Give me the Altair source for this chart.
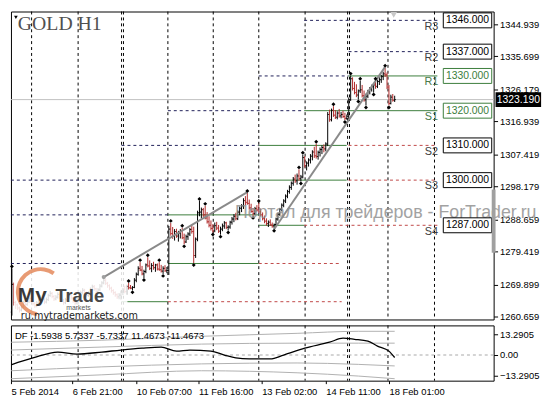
import altair as alt
import pandas as pd

# ---------------- data ----------------
first_open = 1262.0
bar_high = [
    1274.6, 1270.5, 1265.2, 1264.5, 1263.6, 1264.1, 1265.3, 1265.4, 1265.6, 1266.5,
    1266.3, 1265.5, 1264.9, 1265.2, 1265.9, 1266.8, 1266.7, 1266.0, 1266.2, 1267.3,
    1268.1, 1267.8, 1266.9, 1266.9, 1267.7, 1267.4, 1266.6, 1265.8, 1266.1, 1266.9,
    1267.6, 1267.3, 1266.4, 1265.6, 1266.3, 1267.5, 1268.2, 1268.9, 1268.7, 1267.9,
    1268.0, 1269.1, 1269.9, 1269.8, 1269.0, 1268.9, 1270.1, 1270.9, 1271.9, 1271.6,
    1270.7, 1270.0, 1269.3, 1268.6, 1268.0, 1267.4, 1267.5, 1268.2, 1269.0, 1269.6,
    1269.9, 1270.4, 1269.8, 1269.5, 1271.8, 1273.4, 1275.2, 1276.4, 1275.3, 1274.2,
    1276.0, 1277.8, 1276.9, 1276.1, 1276.5, 1275.9, 1276.0, 1276.4, 1275.6, 1275.2,
    1275.5, 1275.0, 1286.8, 1287.7, 1286.5, 1285.9, 1286.0, 1285.4, 1285.9, 1286.3,
    1284.6, 1284.3, 1285.0, 1286.2, 1287.0, 1286.6, 1283.5, 1291.2, 1294.0, 1292.1,
    1292.0, 1292.6, 1290.8, 1289.6, 1288.4, 1287.3, 1287.8, 1288.0, 1287.1, 1286.6,
    1287.5, 1288.2, 1288.0, 1287.0, 1288.3, 1289.4, 1290.2, 1290.6, 1291.3, 1292.4,
    1293.1, 1294.8, 1295.4, 1296.3, 1294.4, 1293.2, 1291.9, 1292.3, 1292.8, 1293.4,
    1291.8, 1290.7, 1289.8, 1289.0, 1288.4, 1288.7, 1287.8, 1287.5, 1289.2, 1290.6,
    1292.0, 1293.3, 1294.5, 1295.9, 1297.2, 1298.5, 1299.6, 1300.9, 1301.6, 1301.9,
    1303.1, 1301.5, 1307.3, 1306.9, 1305.4, 1306.3, 1307.5, 1308.6, 1309.6, 1310.5,
    1308.5, 1309.4, 1310.0, 1310.3, 1310.9, 1319.6, 1320.3, 1320.6, 1321.3, 1320.2,
    1319.8, 1320.5, 1319.6, 1320.0, 1319.4, 1318.9, 1323.8, 1330.1, 1329.6, 1328.3,
    1327.6, 1326.1, 1328.6, 1327.4, 1325.8, 1324.9, 1326.0, 1326.8, 1327.5, 1327.9,
    1328.6, 1328.9, 1329.6, 1330.3, 1331.2, 1332.4, 1331.0, 1327.4, 1324.6, 1324.8,
    1324.3,
]
bar_low = [
    1261.0, 1263.9, 1262.9, 1262.6, 1261.9, 1262.2, 1263.1, 1263.7, 1263.8, 1264.6,
    1264.7, 1263.9, 1263.2, 1263.4, 1264.1, 1264.9, 1265.1, 1264.3, 1264.5, 1265.2,
    1266.4, 1266.0, 1265.2, 1265.4, 1265.9, 1265.7, 1264.9, 1264.1, 1264.3, 1265.1,
    1265.9, 1265.6, 1264.7, 1264.0, 1264.2, 1265.4, 1266.5, 1267.1, 1267.0, 1266.2,
    1266.4, 1267.0, 1268.2, 1268.1, 1267.3, 1267.4, 1268.0, 1269.1, 1270.0, 1269.8,
    1269.0, 1268.3, 1267.6, 1267.0, 1266.4, 1265.8, 1265.7, 1265.6, 1266.9, 1267.4,
    1267.0, 1268.5, 1268.6, 1268.3, 1268.9, 1270.6, 1272.5, 1273.8, 1272.6, 1271.8,
    1273.2, 1274.9, 1274.1, 1273.5, 1274.2, 1273.6, 1274.0, 1273.9, 1273.4, 1273.0,
    1273.6, 1273.2, 1272.7, 1284.0, 1283.1, 1282.6, 1283.4, 1282.3, 1283.2, 1283.0,
    1281.5, 1281.9, 1282.8, 1283.9, 1284.6, 1276.1, 1277.6, 1282.4, 1289.6, 1289.0,
    1289.4, 1288.7, 1287.5, 1286.4, 1285.5, 1284.9, 1285.0, 1285.6, 1284.8, 1284.3,
    1285.3, 1286.0, 1285.9, 1285.5, 1286.0, 1287.2, 1287.9, 1288.4, 1288.5, 1289.9,
    1290.8, 1291.7, 1292.8, 1292.9, 1291.5, 1290.6, 1289.7, 1290.0, 1290.9, 1290.5,
    1289.6, 1288.4, 1287.6, 1286.9, 1286.5, 1286.8, 1286.3, 1286.0, 1286.9, 1288.3,
    1289.7, 1291.0, 1292.2, 1293.4, 1294.8, 1296.1, 1297.2, 1298.4, 1299.2, 1298.7,
    1299.8, 1299.6, 1300.5, 1303.6, 1302.8, 1303.9, 1304.8, 1305.7, 1306.4, 1306.2,
    1305.9, 1306.8, 1307.5, 1308.0, 1308.3, 1309.8, 1316.8, 1316.9, 1318.2, 1317.6,
    1317.5, 1318.0, 1317.8, 1317.9, 1317.3, 1317.4, 1317.6, 1322.8, 1325.8, 1324.7,
    1323.9, 1323.2, 1325.1, 1323.8, 1322.6, 1321.5, 1323.6, 1324.7, 1325.5, 1325.2,
    1326.3, 1326.5, 1327.4, 1328.0, 1328.8, 1329.7, 1326.2, 1321.5, 1321.8, 1322.6,
    1322.5,
]
bar_close = [
    1270.0, 1264.8, 1264.1, 1263.2, 1262.6, 1263.5, 1264.8, 1264.2, 1265.0, 1265.9,
    1265.1, 1264.4, 1263.8, 1264.6, 1265.3, 1266.2, 1265.7, 1264.9, 1265.6, 1266.8,
    1267.4, 1266.5, 1265.8, 1266.3, 1267.1, 1266.2, 1265.4, 1264.7, 1265.5, 1266.4,
    1267.0, 1266.1, 1265.2, 1264.6, 1265.8, 1266.9, 1267.6, 1268.3, 1267.5, 1266.8,
    1267.4, 1268.6, 1269.3, 1268.7, 1267.9, 1268.4, 1269.5, 1270.4, 1271.2, 1270.3,
    1269.6, 1268.9, 1268.2, 1267.6, 1267.0, 1266.4, 1266.9, 1267.8, 1268.6, 1267.9,
    1269.4, 1269.0, 1268.9, 1269.1, 1271.2, 1272.9, 1274.6, 1274.1, 1273.0, 1273.7,
    1275.6, 1275.3, 1274.6, 1275.4, 1274.8, 1275.6, 1274.4, 1274.2, 1273.8, 1274.6,
    1273.9, 1274.0, 1285.9, 1284.6, 1283.8, 1285.2, 1283.9, 1284.8, 1285.5, 1283.4,
    1282.2, 1283.7, 1284.5, 1285.8, 1285.2, 1278.3, 1283.0, 1290.6, 1290.8, 1291.5,
    1290.0, 1289.1, 1288.0, 1287.0, 1286.1, 1285.4, 1286.9, 1286.2, 1285.3, 1285.9,
    1286.8, 1287.7, 1286.4, 1286.5, 1287.9, 1288.8, 1289.6, 1288.9, 1290.8, 1291.9,
    1292.6, 1294.1, 1293.6, 1293.3, 1292.0, 1291.0, 1290.4, 1291.8, 1291.4, 1290.9,
    1290.0, 1288.9, 1288.2, 1287.5, 1287.9, 1287.1, 1286.8, 1287.2, 1288.8, 1290.2,
    1291.6, 1292.8, 1294.0, 1295.4, 1296.7, 1297.9, 1299.1, 1300.3, 1299.8, 1301.2,
    1300.4, 1300.9, 1306.5, 1304.2, 1304.9, 1305.8, 1306.9, 1308.1, 1307.0, 1306.8,
    1308.0, 1308.8, 1309.4, 1309.0, 1310.4, 1318.9, 1317.4, 1320.1, 1318.7, 1318.1,
    1319.3, 1318.5, 1318.9, 1318.3, 1317.8, 1318.4, 1323.2, 1329.2, 1326.4, 1325.2,
    1324.5, 1325.7, 1326.0, 1324.3, 1323.1, 1324.2, 1325.5, 1326.3, 1326.9, 1327.4,
    1327.0, 1328.4, 1328.9, 1329.8, 1330.6, 1330.3, 1326.8, 1322.1, 1323.9, 1323.0,
    1323.19,
]
up_fractals = [1, 62, 68, 72, 78, 84, 90, 99, 102, 124, 130, 151, 153, 160, 169, 178, 183, 191, 196]
down_fractals = [64, 70, 80, 91, 96, 106, 110, 114, 127, 138, 152, 175, 182, 186, 190, 198]

day_separators = [11.3, 35.6, 58.3, 59.3, 82.5, 106.2, 130.0, 154.2, 176.4, 177.4, 197.5, 221.8]

seg_price = [1346, 1337, 1330, 1320, 1310, 1300, 1290, 1276,
             1330, 1320, 1310, 1300, 1290, 1287, 1276, 1265,
             1310, 1300, 1287, 1276, 1265]
seg_start = [153.7, 176.9, 130.0, 82.5, 58.3, 0.5, 0.5, 0.5,
             176.9, 153.7, 130.0, 130.0, 82.5, 130.0, 82.5, 58.3,
             176.9, 176.9, 153.7, 130.0, 82.5]
seg_end = [223.3, 223.3, 176.9, 153.7, 130.0, 130.0, 82.5, 58.3,
           223.3, 223.3, 175.9, 175.9, 130.0, 153.7, 130.0, 82.5,
           223.3, 223.3, 223.3, 173.3, 173.3]
seg_style = ["R"] * 8 + ["P"] * 8 + ["S"] * 5

trend_id = ["t1", "t1", "t2", "t2"]
trend_i = [49.0, 123.8, 138.2, 196.0]
trend_price = [1272.1, 1296.5, 1286.0, 1332.6]

level_price = [1346, 1337, 1330, 1320, 1310, 1300, 1287]
level_name = ["R3", "R2", "R1", "S1", "S2", "S3", "S4"]
level_kind = ["plain", "plain", "green", "green", "plain", "plain", "plain"]

last_price = 1323.19

price_ticks = [1344.939, 1335.699, 1326.179, 1316.939, 1307.419, 1298.179,
               1288.659, 1279.419, 1269.899, 1260.659]

date_ticks = [0.6, 32.5, 66.0, 98.5, 131.5, 165.0, 198.0]
date_labels = ["5 Feb 2014", "6 Feb 21:00", "10 Feb 07:00", "11 Feb 16:00",
               "13 Feb 02:00", "14 Feb 11:00", "18 Feb 01:00"]

df_i = [0.6, 12, 25, 35, 48, 58, 69, 79, 87, 94, 105, 112, 118, 125, 136, 143,
        154, 167, 174, 180, 187, 192, 198, 201]
df_v = [-6.3, -1.9, 1.9, 0.6, 1.9, 3.2, 4.4, 5.1, 2.5, 3.2, 2.5, 0.0, -1.9,
        -2.5, -2.5, 0.0, 4.4, 8.2, 10.8, 10.1, 8.9, 5.7, 2.5, -1.6]

band_i = [0.6, 48, 100, 150, 182, 201]
band_up2 = [8.2, 9.5, 12.0, 13.9, 15.2, 15.2]
band_up1 = [3.2, 5.1, 7.0, 7.6, 7.6, 7.6]
band_dn1 = [-10.1, -7.6, -5.7, -5.1, -6.0, -7.0]
band_dn2 = [-15.2, -12.7, -10.1, -11.4, -13.5, -15.2]

ind_ticks = [13.2905, 0.0, -13.2905]

# ---------------- frames ----------------
n = len(bar_close)
idx = list(range(1, n + 1))
opens = [first_open] + bar_close[:-1]
bars = pd.DataFrame({"i": idx, "high": bar_high, "low": bar_low,
                     "open": opens, "close": bar_close})
bars["dir"] = ["up" if c >= o else "down" for o, c in zip(opens, bar_close)]

hi_map = dict(zip(idx, bar_high))
lo_map = dict(zip(idx, bar_low))
frac_up = pd.DataFrame({"i": up_fractals, "p": [hi_map[k] for k in up_fractals]})
frac_dn = pd.DataFrame({"i": down_fractals, "p": [lo_map[k] for k in down_fractals]})
seps = pd.DataFrame({"i": day_separators})
segs = pd.DataFrame({"p": seg_price, "a": seg_start, "b": seg_end, "s": seg_style})
trends = pd.DataFrame({"id": trend_id, "i": trend_i, "p": trend_price})
levels = pd.DataFrame({"p": level_price, "name": level_name, "kind": level_kind})
levels["txt"] = [f"{v:.3f}" for v in level_price]
lastdf = pd.DataFrame({"p": [last_price], "txt": [f"{last_price:.3f}"]})

dfline = pd.DataFrame({"i": df_i, "v": df_v})
bands = pd.concat([
    pd.DataFrame({"i": band_i, "v": band_up2, "b": "u2"}),
    pd.DataFrame({"i": band_i, "v": band_up1, "b": "u1"}),
    pd.DataFrame({"i": band_i, "v": band_dn1, "b": "d1"}),
    pd.DataFrame({"i": band_i, "v": band_dn2, "b": "d2"}),
])

# ---------------- scales ----------------
FONT = "Liberation Sans"
W, H_MAIN, H_IND = 489, 312, 56
xs = alt.Scale(domain=[0.516, 252.7], nice=False, zero=False)
ys = alt.Scale(domain=[1259.88, 1348.55], nice=False, zero=False)
ys_ind = alt.Scale(domain=[-16.46, 18.99], nice=False, zero=False)

y_axis = alt.Axis(orient="right", values=price_ticks, format=".3f", title=None,
                  tickSize=4, labelPadding=2)
label_expr = " : ".join(f"datum.value == {v} ? '{t}'" for v, t in zip(date_ticks, date_labels)) + " : ''"
x_axis_ind = alt.Axis(values=date_ticks, labelExpr=label_expr, labelAlign="left",
                      title=None, tickSize=3, labelPadding=3)
y_axis_ind = alt.Axis(orient="right", values=ind_ticks, title=None, tickSize=4, labelPadding=2,
                      labelExpr="datum.value == 0 ? '0.00' : format(datum.value, '.4f')")

def X(f):
    return alt.X(f, type="quantitative", scale=xs, axis=None)

def Y(f):
    return alt.Y(f, type="quantitative", scale=ys, axis=y_axis)

GREEN = "#3b7d3b"
RED = "#c04848"
NAVY = "#202058"

# ---------------- main panel ----------------
sep_layer = alt.Chart(seps).mark_rule(color="black", strokeDash=[3, 3], strokeWidth=1).encode(x=X("i"))
last_line = alt.Chart(lastdf).mark_rule(color="#c0c0c0", strokeWidth=1).encode(
    y=Y("p"), x=alt.value(0), x2=alt.value(W))

seg_R = alt.Chart(segs).transform_filter("datum.s == 'R'").mark_rule(
    color=NAVY, strokeDash=[3, 3], strokeWidth=1).encode(x=X("a"), x2="b", y=Y("p"))
seg_P = alt.Chart(segs).transform_filter("datum.s == 'P'").mark_rule(
    color=GREEN, strokeWidth=1).encode(x=X("a"), x2="b", y=Y("p"))
seg_S = alt.Chart(segs).transform_filter("datum.s == 'S'").mark_rule(
    color=RED, strokeDash=[3, 3], strokeWidth=1).encode(x=X("a"), x2="b", y=Y("p"))

bar_color = alt.Color("dir:N", scale=alt.Scale(domain=["up", "down"], range=["#000000", "#b02a2a"]), legend=None)
base = alt.Chart(bars)
hl = base.mark_rule(strokeWidth=1).encode(x=X("i"), y=Y("low"), y2="high", color=bar_color)
open_tick = base.transform_calculate(a="datum.i - 0.55").mark_rule(strokeWidth=1).encode(
    x=X("a:Q"), x2="i:Q", y=Y("open"), color=bar_color)
close_tick = base.transform_calculate(b="datum.i + 0.55").mark_rule(strokeWidth=1).encode(
    x=X("i:Q"), x2="b:Q", y=Y("close"), color=bar_color)

# logo overlay (semi-opaque white block over the first bars)
one = pd.DataFrame({"k": [0]})
logo_bg = alt.Chart(one).mark_rect(color="white", opacity=0.86).encode(
    x=alt.value(3), x2=alt.value(118), y=alt.value(262), y2=alt.value(311))
logo_ring = alt.Chart(one).mark_arc(
    radius=25, radius2=21, theta=3.3, theta2=6.9, color="#e07a45", opacity=0.75).encode(
    x=alt.value(30), y=alt.value(284))
logo_my = alt.Chart(pd.DataFrame({"t": ["My"]})).mark_text(
    font=FONT, fontSize=21, fontWeight="bold", color="#383838", align="left", baseline="alphabetic").encode(
    x=alt.value(7), y=alt.value(294), text="t:N")
logo_trade = alt.Chart(pd.DataFrame({"t": ["Trade"]})).mark_text(
    font=FONT, fontSize=18.5, fontWeight="bold", color="#484848", align="left", baseline="alphabetic").encode(
    x=alt.value(45), y=alt.value(294), text="t:N")
logo_markets = alt.Chart(pd.DataFrame({"t": ["markets"]})).mark_text(
    font=FONT, fontSize=7, color="#555555", align="left", baseline="alphabetic").encode(
    x=alt.value(56), y=alt.value(302), text="t:N")
logo_url = alt.Chart(pd.DataFrame({"t": ["ru.mytrademarkets.com"]})).mark_text(
    font="DejaVu Sans", fontSize=9.8, color="#222222", align="left", baseline="alphabetic").encode(
    x=alt.value(10), y=alt.value(312), text="t:N")

trend_layer = alt.Chart(trends).mark_line(color="#8a8a8a", strokeWidth=2).encode(
    x=X("i"), y=Y("p"), detail="id:N")
trend_dot = alt.Chart(trends).transform_filter("datum.i == 49").mark_point(
    color="#a0a0a0", filled=True, size=18, opacity=1).encode(x=X("i"), y=Y("p"))

fr_up = alt.Chart(frac_up).mark_point(shape="diamond", filled=True, color="black", size=16,
                                      yOffset=-2, opacity=1).encode(x=X("i"), y=Y("p"))
fr_dn = alt.Chart(frac_dn).mark_point(shape="diamond", filled=True, color="black", size=16,
                                      yOffset=2, opacity=1).encode(x=X("i"), y=Y("p"))

watermark = alt.Chart(pd.DataFrame({"t": ["Портал для трейдеров - ForTrader.ru"]})).mark_text(
    font=FONT, fontSize=18, color="#8c8c8c", opacity=0.8, align="left", baseline="alphabetic").encode(
    x=alt.value(227), y=alt.value(209), text="t:N")

def level_layers(kind, line_col, name_col):
    lv = alt.Chart(levels).transform_filter(f"datum.kind == '{kind}'")
    box = lv.transform_calculate(top="datum.p + 2.15", bot="datum.p - 2.15", l="226.4", r="251.7").mark_rect(
        fill="white", stroke=line_col, strokeWidth=1).encode(
        x=X("l:Q"), x2="r:Q", y=Y("top:Q"), y2="bot:Q")
    txt = lv.transform_calculate(c="239.05").mark_text(
        font=FONT, fontSize=10.5, baseline="middle", align="center", color=line_col).encode(
        x=X("c:Q"), y=Y("p"), text="txt:N")
    nm = lv.transform_calculate(c="220.2", q="datum.p - 1.8").mark_text(
        font=FONT, fontSize=11, baseline="middle", align="center", color=name_col).encode(
        x=X("c:Q"), y=Y("q:Q"), text="name:N")
    return [box, txt, nm]

lvl_plain = level_layers("plain", "#000000", "#404040")
lvl_green = level_layers("green", GREEN, "#4a7a4a")

last_box = alt.Chart(lastdf).transform_calculate(top="datum.p + 2.1", bot="datum.p - 2.1", l="253.7", r="277.5").mark_rect(
    color="black").encode(x=X("l:Q"), x2="r:Q", y=Y("top:Q"), y2="bot:Q")
last_txt = alt.Chart(lastdf).transform_calculate(c="265.6").mark_text(
    font=FONT, fontSize=10.5, color="white", baseline="middle", align="center").encode(
    x=X("c:Q"), y=Y("p"), text="txt:N")

scroll = alt.Chart(pd.DataFrame({"a": [251.7], "b": [253.7], "p1": [1297.3], "p2": [1279.1]})).mark_rect(
    color="#a0a0a0").encode(x=X("a"), x2="b", y=Y("p1"), y2="p2")
shift_mark = alt.Chart(pd.DataFrame({"i": [200.5], "p": [1347.6]})).mark_point(
    shape="triangle-down", filled=True, color="#c8c8c8", size=45, opacity=1).encode(x=X("i"), y=Y("p"))

title_tri = alt.Chart(one).mark_point(
    shape="triangle-down", filled=True, color="black", size=14, opacity=1).encode(
    x=alt.value(5), y=alt.value(6))
title_txt = alt.Chart(pd.DataFrame({"t": ["GOLD H1"]})).mark_text(
    font="Liberation Serif", fontSize=20, color="#505050", align="left", baseline="alphabetic").encode(
    x=alt.value(7), y=alt.value(19), text="t:N")

main = alt.layer(
    sep_layer, last_line, seg_R, seg_P, seg_S, hl, open_tick, close_tick,
    logo_bg, logo_ring, logo_my, logo_trade, logo_markets, logo_url,
    trend_layer, trend_dot, fr_up, fr_dn, watermark,
    *lvl_plain, *lvl_green, last_box, last_txt, scroll, shift_mark,
    title_tri, title_txt,
).properties(width=W, height=H_MAIN)

# ---------------- indicator panel ----------------
XI = alt.X("i:Q", scale=xs, axis=x_axis_ind)
YI = alt.Y("v:Q", scale=ys_ind, axis=y_axis_ind)

ind_sep = alt.Chart(seps).mark_rule(color="black", strokeDash=[3, 3], strokeWidth=1).encode(x=XI)
ind_zero = alt.Chart(pd.DataFrame({"v": [0.0]})).mark_rule(color="#a8a8a8", strokeDash=[3, 3]).encode(
    y=YI, x=alt.value(0), x2=alt.value(W))
ind_bands = alt.Chart(bands).mark_line(color="#b0b0b0", strokeWidth=1, interpolate="monotone").encode(
    x=XI, y=YI, detail="b:N")
ind_df = alt.Chart(dfline).mark_line(color="black", strokeWidth=1.3, interpolate="monotone").encode(x=XI, y=YI)
ind_label = alt.Chart(pd.DataFrame({"t": ["DF -1.5938 5.7337 -5.7337 11.4673 -11.4673"]})).mark_text(
    font=FONT, fontSize=9.6, color="black", align="left", baseline="middle").encode(
    x=alt.value(4), y=alt.value(11), text="t:N")

ind = alt.layer(ind_sep, ind_zero, ind_bands, ind_df, ind_label).properties(width=W, height=H_IND)

chart = alt.vconcat(main, ind, spacing=2).properties(
    padding={"left": 0, "top": 0, "right": 0, "bottom": 0},
    background="white",
).configure_view(stroke="black", strokeWidth=1).configure_axis(
    labelFont=FONT, labelFontSize=9.5, labelColor="black", tickColor="black",
    domain=False, grid=False,
)

chart.save("out.html", embed_options={"renderer": "svg", "actions": False})
